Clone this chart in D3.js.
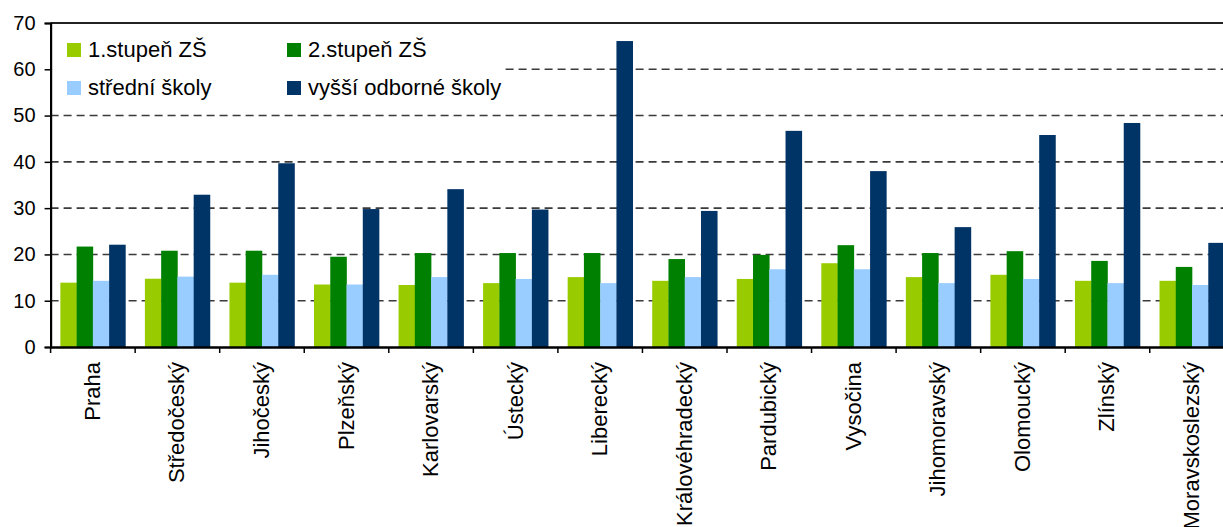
<!DOCTYPE html>
<html>
<head>
<meta charset="utf-8">
<script src="https://cdn.jsdelivr.net/npm/d3@7"></script>
<style>
  html, body { margin: 0; padding: 0; background: #fff; }
  svg { display: block; }
  text { font-family: "Liberation Sans", Arial, sans-serif; fill: #000; }
</style>
</head>
<body>
<svg id="chart" width="1223" height="527"></svg>
<script>
const categories = ["Praha", "Středočeský", "Jihočeský", "Plzeňský", "Karlovarský", "Ústecký", "Liberecký",
  "Královéhradecký", "Pardubický", "Vysočina", "Jihomoravský", "Olomoucký", "Zlínský", "Moravskoslezský"];
const seriesNames = ["1.stupeň ZŠ", "2.stupeň ZŠ", "střední školy", "vyšší odborné školy"];
const seriesColors = ["#99CC00", "#008000", "#99CCFF", "#003366"];
const zs1 = [13.9, 14.75, 13.9, 13.5, 13.4, 13.8, 15.1, 14.3, 14.7, 18.1, 15.1, 15.6, 14.3, 14.3];
const zs2 = [21.7, 20.8, 20.8, 19.5, 20.3, 20.3, 20.3, 19.0, 19.9, 22.0, 20.3, 20.7, 18.6, 17.3];
const ss  = [14.3, 15.2, 15.6, 13.5, 15.1, 14.7, 13.8, 15.1, 16.8, 16.8, 13.8, 14.7, 13.8, 13.4];
const vos = [22.1, 32.9, 39.7, 29.8, 34.1, 29.7, 66.1, 29.4, 46.7, 38.0, 25.9, 45.8, 48.4, 22.5];
const yTicks = [0, 10, 20, 30, 40, 50, 60, 70];

const seriesValues = [zs1, zs2, ss, vos];
const svg = d3.select("#chart");

const plotLeft = 50.6, plotRight = 1234.3, plotTop = 23, plotBottom = 347;

const x0 = d3.scaleBand().domain(categories).range([plotLeft, plotRight]).padding(0);
const x1 = d3.scaleBand().domain(d3.range(4)).range([0, x0.bandwidth()]).paddingInner(0).paddingOuter(0.6);
const y = d3.scaleLinear().domain([0, 70]).range([plotBottom, plotTop]);

// gridlines
svg.append("g").selectAll("line").data(yTicks.filter(t => t > 0 && t < 70)).join("line")
  .attr("x1", plotLeft).attr("x2", 1223)
  .attr("y1", d => y(d)).attr("y2", d => y(d))
  .attr("stroke", "#3a3a3a").attr("stroke-width", 1.6).attr("stroke-dasharray", "8,5");

// top border
svg.append("line").attr("x1", plotLeft).attr("x2", 1223).attr("y1", y(70)).attr("y2", y(70))
  .attr("stroke", "#222").attr("stroke-width", 2);

// legend background (covers gridlines)
svg.append("rect").attr("x", plotLeft + 1.5).attr("y", y(70) + 2).attr("width", 451).attr("height", 78).attr("fill", "#fff");

// bars
const groups = svg.append("g").selectAll("g").data(categories).join("g")
  .attr("transform", d => `translate(${x0(d)},0)`);
groups.selectAll("rect").data((d, i) => seriesValues.map((s, k) => ({ k, v: s[i] }))).join("rect")
  .attr("x", d => x1(d.k)).attr("width", x1.bandwidth() + 0.3)
  .attr("y", d => y(d.v)).attr("height", d => y(0) - y(d.v))
  .attr("fill", d => seriesColors[d.k]);

// y axis
const yAxis = d3.axisLeft(y).tickValues(yTicks).tickSize(6).tickPadding(9);
const gy = svg.append("g").attr("transform", `translate(${plotLeft},0)`).call(yAxis);
gy.select(".domain").attr("stroke", "#000").attr("stroke-width", 2.2);
gy.selectAll(".tick line").attr("stroke", "#000").attr("stroke-width", 1.5);
gy.selectAll(".tick text").attr("font-size", "20px").attr("font-family", "Liberation Sans, Arial, sans-serif").attr("fill", "#000");

// x axis
const xAxis = d3.axisBottom(x0).tickSize(0).tickPadding(0);
const gx = svg.append("g").attr("transform", `translate(0,${plotBottom})`).call(xAxis);
gx.select(".domain").attr("stroke", "#000").attr("stroke-width", 2.5);
gx.selectAll(".tick text")
  .attr("font-size", "22px").attr("font-family", "Liberation Sans, Arial, sans-serif").attr("fill", "#000")
  .attr("text-anchor", "end")
  .attr("transform", "translate(7,15) rotate(-90)")
  .attr("dy", "0").attr("x", 0).attr("y", 0);
// category separator ticks
svg.append("g").selectAll("line").data(categories).join("line")
  .attr("x1", d => x0(d)).attr("x2", d => x0(d))
  .attr("y1", plotBottom).attr("y2", plotBottom + 6)
  .attr("stroke", "#000").attr("stroke-width", 1.5);

// legend
const legendPos = [[67, 43], [287, 43], [67, 81], [287, 81]];
const lg = svg.append("g").selectAll("g").data(seriesNames).join("g")
  .attr("transform", (d, i) => `translate(${legendPos[i][0]},${legendPos[i][1]})`);
lg.append("rect").attr("width", 14).attr("height", 14).attr("fill", (d, i) => seriesColors[i]);
lg.append("text").attr("x", 21).attr("y", 14).attr("font-size", "22px").text(d => d);
</script>
</body>
</html>
